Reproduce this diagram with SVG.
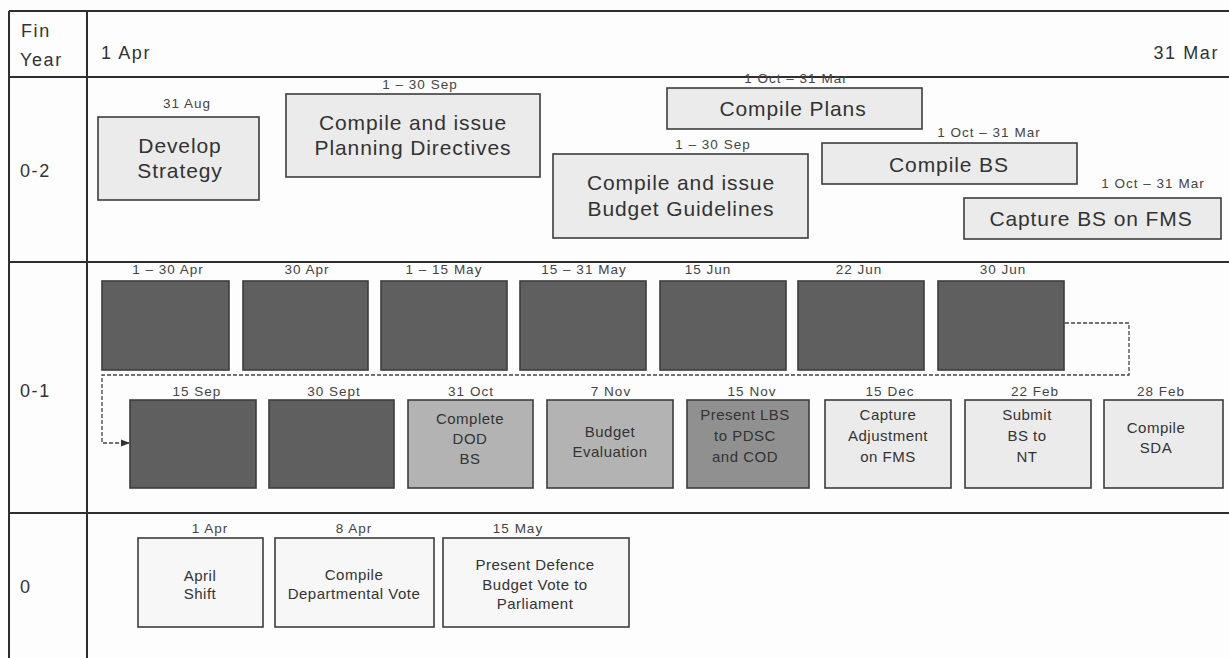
<svg xmlns="http://www.w3.org/2000/svg" width="1229" height="658" viewBox="0 0 1229 658">
<style>
  text { font-family: "Liberation Sans", Arial, sans-serif; fill: #333; }
  .hdr { font-size: 18px; letter-spacing: 1.6px; }
  .row { font-size: 18px; letter-spacing: 1.6px; }
  .date { font-size: 13.5px; letter-spacing: 1px; text-anchor: middle; fill: #444; }
  .big { font-size: 21px; letter-spacing: 0.9px; text-anchor: middle; }
  .sm { font-size: 15px; letter-spacing: 0.5px; text-anchor: middle; }
  .box { stroke: #3c3c3c; stroke-width: 1.6; }
  .lite { fill: #ebebeb; }
  .pale { fill: #f7f7f7; }
  .dark { fill: #5f5f5f; }
  .mid { fill: #b3b3b3; }
  .mid2 { fill: #909090; }
  .grid { stroke: #2e2e2e; stroke-width: 2; fill: none; }
  .conn { stroke: #444; stroke-width: 1.3; fill: none; stroke-dasharray: 4 2; }
</style>
<defs>
  <marker id="arr" viewBox="0 0 10 10" refX="9" refY="5" markerWidth="7" markerHeight="7" orient="auto">
    <path d="M0,1 L10,5 L0,9 z" fill="#333"/>
  </marker>
</defs>
<rect width="1229" height="658" fill="#fdfdfd"/>
<g id="table">
  <path class="grid" d="M9,11 H1229 M9,11 V658 M87,11 V658 M9,77 H1229 M9,262 H1229 M9,513 H1229"/>
  <text class="hdr" x="21" y="37">Fin</text>
  <text class="hdr" x="20" y="66">Year</text>
  <text class="hdr" x="101" y="59">1 Apr</text>
  <text class="hdr" x="1219" y="59" text-anchor="end">31 Mar</text>
  <text class="row" x="20" y="177">0-2</text>
  <text class="row" x="20" y="397">0-1</text>
  <text class="row" x="20" y="593">0</text>
</g>
<g id="connectors">
  <path class="conn" d="M1065,323 H1129 V375 H102 V443 H129" marker-end="url(#arr)"/>
</g>
<!-- Row 0-2 -->
<g id="develop-strategy">
  <text class="date" x="187" y="108">31 Aug</text>
  <rect class="box lite" x="98" y="117" width="161" height="83"/>
  <text class="big" x="180" y="153">Develop</text>
  <text class="big" x="180" y="178">Strategy</text>
</g>
<g id="planning-directives">
  <text class="date" x="420" y="89">1 – 30 Sep</text>
  <rect class="box lite" x="286" y="94" width="254" height="83"/>
  <text class="big" x="413" y="130">Compile and issue</text>
  <text class="big" x="413" y="155">Planning Directives</text>
</g>
<g id="compile-plans">
  <text class="date" x="796" y="83">1 Oct – 31 Mar</text>
  <rect class="box lite" x="667" y="88" width="255" height="41"/>
  <text class="big" x="793" y="116">Compile Plans</text>
</g>
<g id="budget-guidelines">
  <text class="date" x="713" y="149">1 – 30 Sep</text>
  <rect class="box lite" x="553" y="154" width="255" height="84"/>
  <text class="big" x="681" y="190">Compile and issue</text>
  <text class="big" x="681" y="216">Budget Guidelines</text>
</g>
<g id="compile-bs">
  <text class="date" x="989" y="137">1 Oct – 31 Mar</text>
  <rect class="box lite" x="822" y="143" width="255" height="41"/>
  <text class="big" x="949" y="172">Compile BS</text>
</g>
<g id="capture-bs-fms">
  <text class="date" x="1153" y="188">1 Oct – 31 Mar</text>
  <rect class="box lite" x="964" y="198" width="257" height="41"/>
  <text class="big" x="1091" y="226">Capture BS on FMS</text>
</g>
<!-- Row 0-1 top -->
<g id="n-1-30-apr">
  <text class="date" x="168" y="274">1 – 30 Apr</text>
  <rect class="box dark" x="102" y="281" width="127" height="89"/>
</g>
<g id="n-30-apr">
  <text class="date" x="307" y="274">30 Apr</text>
  <rect class="box dark" x="243" y="281" width="125" height="89"/>
</g>
<g id="n-1-15-may">
  <text class="date" x="444" y="274">1 – 15 May</text>
  <rect class="box dark" x="381" y="281" width="126" height="89"/>
</g>
<g id="n-15-31-may">
  <text class="date" x="584" y="274">15 – 31 May</text>
  <rect class="box dark" x="520" y="281" width="126" height="89"/>
</g>
<g id="n-15-jun">
  <text class="date" x="708" y="274">15 Jun</text>
  <rect class="box dark" x="660" y="281" width="126" height="89"/>
</g>
<g id="n-22-jun">
  <text class="date" x="859" y="274">22 Jun</text>
  <rect class="box dark" x="798" y="281" width="126" height="89"/>
</g>
<g id="n-30-jun">
  <text class="date" x="1003" y="274">30 Jun</text>
  <rect class="box dark" x="938" y="281" width="126" height="89"/>
</g>
<!-- Row 0-1 bottom -->
<g id="n-15-sep">
  <text class="date" x="197" y="396">15 Sep</text>
  <rect class="box dark" x="130" y="400" width="126" height="88"/>
</g>
<g id="n-30-sept">
  <text class="date" x="334" y="396">30 Sept</text>
  <rect class="box dark" x="269" y="400" width="125" height="88"/>
</g>
<g id="complete-dod-bs">
  <text class="date" x="471" y="396">31 Oct</text>
  <rect class="box mid" x="408" y="400" width="125" height="88"/>
  <text class="sm" x="470" y="424">Complete</text>
  <text class="sm" x="470" y="444">DOD</text>
  <text class="sm" x="470" y="464">BS</text>
</g>
<g id="budget-evaluation">
  <text class="date" x="611" y="396">7 Nov</text>
  <rect class="box mid" x="547" y="400" width="126" height="88"/>
  <text class="sm" x="610" y="437">Budget</text>
  <text class="sm" x="610" y="457">Evaluation</text>
</g>
<g id="present-lbs">
  <text class="date" x="752" y="396">15 Nov</text>
  <rect class="box mid2" x="687" y="400" width="122" height="88"/>
  <text class="sm" x="745" y="420">Present LBS</text>
  <text class="sm" x="745" y="441">to PDSC</text>
  <text class="sm" x="745" y="462">and COD</text>
</g>
<g id="capture-adjustment">
  <text class="date" x="890" y="396">15 Dec</text>
  <rect class="box lite" x="825" y="400" width="126" height="88"/>
  <text class="sm" x="888" y="420">Capture</text>
  <text class="sm" x="888" y="441">Adjustment</text>
  <text class="sm" x="888" y="462">on FMS</text>
</g>
<g id="submit-bs-nt">
  <text class="date" x="1035" y="396">22 Feb</text>
  <rect class="box lite" x="965" y="400" width="126" height="88"/>
  <text class="sm" x="1027" y="420">Submit</text>
  <text class="sm" x="1027" y="441">BS to</text>
  <text class="sm" x="1027" y="462">NT</text>
</g>
<g id="compile-sda">
  <text class="date" x="1161" y="396">28 Feb</text>
  <rect class="box lite" x="1104" y="400" width="119" height="88"/>
  <text class="sm" x="1156" y="433">Compile</text>
  <text class="sm" x="1156" y="453">SDA</text>
</g>
<!-- Row 0 -->
<g id="april-shift">
  <text class="date" x="210" y="533">1 Apr</text>
  <rect class="box pale" x="138" y="538" width="125" height="89"/>
  <text class="sm" x="200" y="581">April</text>
  <text class="sm" x="200" y="599">Shift</text>
</g>
<g id="departmental-vote">
  <text class="date" x="354" y="533">8 Apr</text>
  <rect class="box pale" x="275" y="538" width="159" height="89"/>
  <text class="sm" x="354" y="580">Compile</text>
  <text class="sm" x="354" y="599">Departmental Vote</text>
</g>
<g id="present-defence-vote">
  <text class="date" x="518" y="533">15 May</text>
  <rect class="box pale" x="443" y="538" width="186" height="89"/>
  <text class="sm" x="535" y="570">Present Defence</text>
  <text class="sm" x="535" y="590">Budget Vote to</text>
  <text class="sm" x="535" y="609">Parliament</text>
</g>
</svg>
